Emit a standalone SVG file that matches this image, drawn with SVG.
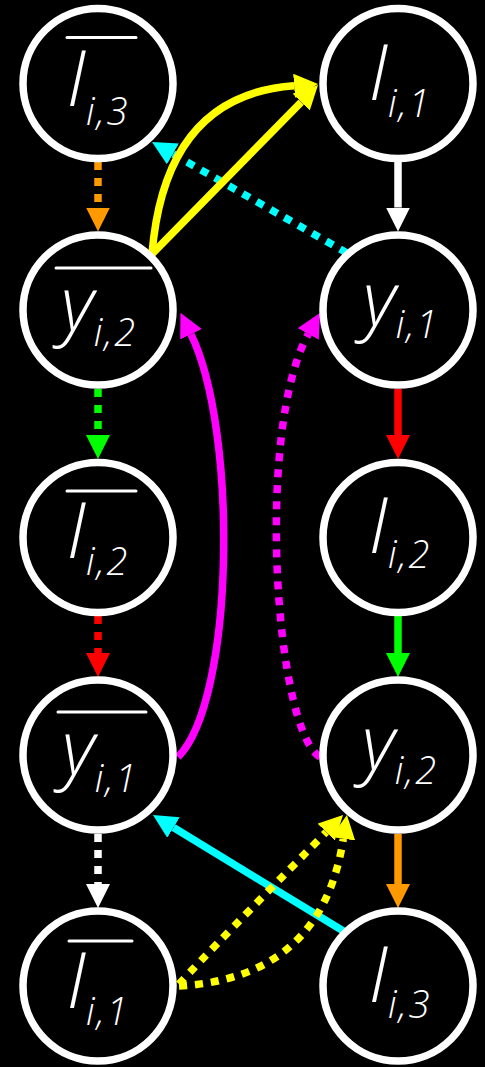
<svg xmlns="http://www.w3.org/2000/svg" width="485" height="1067" viewBox="0 0 485 1067">
<defs>
<style>
.node{fill:#000;stroke:#fff;stroke-width:7.5}
.ov{stroke:#fff;stroke-width:3;stroke-linecap:round}
.lbl{fill:#fff;font-family:"Open Sans","DejaVu Sans",sans-serif;font-weight:300;font-style:italic;text-anchor:middle}
.bigI{font-size:78px}
.bigy{font-size:76px}
.sub{font-size:38px;letter-spacing:2px}
.c{fill:none;stroke-width:7.5}
.d{stroke-dasharray:8 8}
</style>
<marker id="m-or" markerUnits="userSpaceOnUse" markerWidth="24" markerHeight="24" viewBox="0 0 24 24" refX="0" refY="12" orient="auto"><path d="M0,0 L24,12 L0,24 Z" fill="#FF9900"/></marker>
<marker id="m-gr" markerUnits="userSpaceOnUse" markerWidth="24" markerHeight="24" viewBox="0 0 24 24" refX="0" refY="12" orient="auto"><path d="M0,0 L24,12 L0,24 Z" fill="#00FF00"/></marker>
<marker id="m-rd" markerUnits="userSpaceOnUse" markerWidth="24" markerHeight="24" viewBox="0 0 24 24" refX="0" refY="12" orient="auto"><path d="M0,0 L24,12 L0,24 Z" fill="#FF0000"/></marker>
<marker id="m-wh" markerUnits="userSpaceOnUse" markerWidth="24" markerHeight="24" viewBox="0 0 24 24" refX="0" refY="12" orient="auto"><path d="M0,0 L24,12 L0,24 Z" fill="#FFFFFF"/></marker>
<marker id="m-cy" markerUnits="userSpaceOnUse" markerWidth="24" markerHeight="24" viewBox="0 0 24 24" refX="0" refY="12" orient="auto"><path d="M0,0 L24,12 L0,24 Z" fill="#00FFFF"/></marker>
<marker id="m-ye" markerUnits="userSpaceOnUse" markerWidth="24" markerHeight="24" viewBox="0 0 24 24" refX="0" refY="12" orient="auto"><path d="M0,0 L24,12 L0,24 Z" fill="#FFFF00"/></marker>
<marker id="m-mg" markerUnits="userSpaceOnUse" markerWidth="24" markerHeight="24" viewBox="0 0 24 24" refX="0" refY="12" orient="auto"><path d="M0,0 L24,12 L0,24 Z" fill="#FF00FF"/></marker>
</defs>
<rect x="0" y="0" width="485" height="1067" fill="#000"/>

<g id="connectors">
  <!-- left column dashed -->
  <path class="c d" stroke="#FF9900" d="M98,162 V207.5" marker-end="url(#m-or)"/>
  <path class="c d" stroke="#00FF00" d="M98,389 V435" marker-end="url(#m-gr)"/>
  <path class="c d" stroke="#FF0000" d="M98,616 V653" marker-end="url(#m-rd)"/>
  <path class="c d" stroke="#FFFFFF" d="M98,834 V884" marker-end="url(#m-wh)"/>
  <!-- right column solid -->
  <path class="c" stroke="#FFFFFF" d="M398,162 V207.5" marker-end="url(#m-wh)"/>
  <path class="c" stroke="#FF0000" d="M398,389 V435" marker-end="url(#m-rd)"/>
  <path class="c" stroke="#00FF00" d="M398,616 V653" marker-end="url(#m-gr)"/>
  <path class="c" stroke="#FF9900" d="M398,834 V884" marker-end="url(#m-or)"/>
  <!-- cyan -->
  <path class="c d" stroke="#00FFFF" d="M347,253 L172.9,153.9" marker-end="url(#m-cy)"/>
  <path class="c" stroke="#00FFFF" d="M345,932 L173.5,827.5" marker-end="url(#m-cy)"/>
  <!-- yellow solid -->
  <path class="c" stroke="#FFFF00" d="M152,254 L301.2,102.1" marker-end="url(#m-ye)"/>
  <path class="c" stroke="#FFFF00" d="M152,254 Q165,95 294.1,85.7" marker-end="url(#m-ye)"/>
  <!-- yellow dotted -->
  <path class="c d" stroke="#FFFF00" d="M179,984 Q215,945 326.2,832.1" marker-end="url(#m-ye)"/>
  <path class="c d" stroke="#FFFF00" d="M179,986 Q322,978 343.3,838.7" marker-end="url(#m-ye)"/>
  <!-- magenta -->
  <path class="c" stroke="#FF00FF" d="M178,757 C235,700 238,430 191,334.3" marker-end="url(#m-mg)"/>
  <path class="c d" stroke="#FF00FF" d="M320,757 C275,730 255,430 308.3,334" marker-end="url(#m-mg)"/>
</g>

<g id="n-I3bar">
  <circle class="node" cx="98" cy="83.5" r="75"/>
  <line class="ov" x1="67" y1="37.5" x2="136" y2="37.5"/>
  <text class="lbl" x="98" y="106"><tspan class="bigI">I</tspan><tspan class="sub" dy="19">i,3</tspan></text>
</g>
<g id="n-I1">
  <circle class="node" cx="398" cy="83.5" r="75"/>
  <text class="lbl" x="400" y="100"><tspan class="bigI">I</tspan><tspan class="sub" dy="17">i,1</tspan></text>
</g>
<g id="n-y2bar">
  <circle class="node" cx="98" cy="310" r="75"/>
  <line class="ov" x1="56" y1="268" x2="151" y2="268"/>
  <text class="lbl" x="99" y="331"><tspan class="bigy">y</tspan><tspan class="sub" dy="15">i,2</tspan></text>
</g>
<g id="n-y1">
  <circle class="node" cx="398" cy="310" r="75"/>
  <text class="lbl" x="401" y="326"><tspan class="bigy">y</tspan><tspan class="sub" dy="12">i,1</tspan></text>
</g>
<g id="n-I2bar">
  <circle class="node" cx="98" cy="537.5" r="75"/>
  <line class="ov" x1="67" y1="491" x2="136" y2="491"/>
  <text class="lbl" x="98" y="558"><tspan class="bigI">I</tspan><tspan class="sub" dy="17">i,2</tspan></text>
</g>
<g id="n-I2">
  <circle class="node" cx="398" cy="537.5" r="75"/>
  <text class="lbl" x="400" y="553"><tspan class="bigI">I</tspan><tspan class="sub" dy="15">i,2</tspan></text>
</g>
<g id="n-y1bar">
  <circle class="node" cx="98" cy="755" r="75"/>
  <line class="ov" x1="58" y1="712" x2="146" y2="712"/>
  <text class="lbl" x="100" y="775"><tspan class="bigy">y</tspan><tspan class="sub" dy="17">i,1</tspan></text>
</g>
<g id="n-y2">
  <circle class="node" cx="398" cy="755" r="75"/>
  <text class="lbl" x="400" y="770"><tspan class="bigy">y</tspan><tspan class="sub" dy="14">i,2</tspan></text>
</g>
<g id="n-I1bar">
  <circle class="node" cx="98" cy="986" r="75"/>
  <line class="ov" x1="69" y1="941" x2="132" y2="941"/>
  <text class="lbl" x="98" y="1008"><tspan class="bigI">I</tspan><tspan class="sub" dy="17">i,1</tspan></text>
</g>
<g id="n-I3">
  <circle class="node" cx="398" cy="986" r="75"/>
  <text class="lbl" x="400" y="1002"><tspan class="bigI">I</tspan><tspan class="sub" dy="16">i,3</tspan></text>
</g>
</svg>
